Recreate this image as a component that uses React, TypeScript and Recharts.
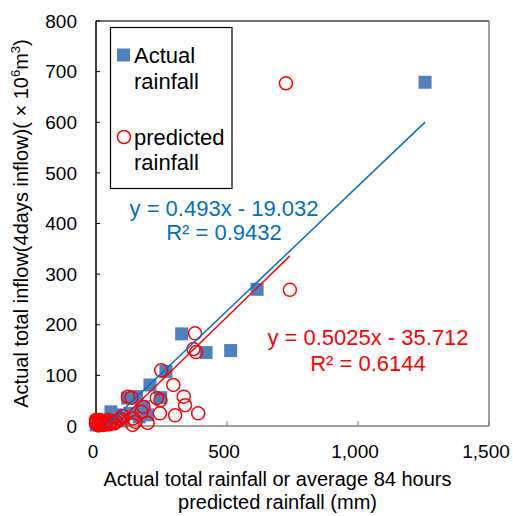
import React from 'react';
import { ScatterChart, Scatter, XAxis, YAxis, ReferenceLine, Label } from 'recharts';

// Actual rainfall (mm) vs. actual total inflow (10^6 m3)
const actualRain = [1256, 615, 327, 420, 514, 267, 206, 247, 181, 196, 155, 121, 165, 57, 65, 90, 30, 10, 4, 20, 40, 100, 130, 172, 75, 0, 15];
const actualInflow = [679, 270, 182, 145, 149, 108, 81, 56, 38, 22, 58, 55, 18, 28, 20, 15, 8, 5, 3, 10, 6, 10, 25, 34, 22, 2, 4];

// Predicted (84h average) rainfall (mm) vs. actual total inflow
const predRain = [725, 740, 378, 372, 382, 249, 295, 335, 340, 390, 302, 244, 232, 246, 181, 142, 122, 135, 174, 92, 60, 40, 20, 10, 3, 30, 70, 150, 102, 50, 88, 140, 197, 15, 0, 2, 8, 25, 35, 45, 55, 0, 18, 78];
const predInflow = [677, 269, 183, 152, 146, 110, 81, 58, 41, 25, 21, 25, 55, 51, 38, 15, 58, 56, 28, 15, 10, 8, 5, 3, 8, 2, 5, 8, 20, 3, 12, 2, 6, 12, 5, 10, 1, 9, 4, 12, 6, 12, 2, 8];

// Linear trendlines (visible segment endpoints): y = 0.493x - 19.032, y = 0.5025x - 35.712
const blueTrendX = [38.6, 1256];
const blueTrendY = [0, 600.2];
const redTrendX = [71.1, 740];
const redTrendY = [0, 336.1];

const xTicks = [0, 500, 1000, 1500];
const yTicks = [0, 100, 200, 300, 400, 500, 600, 700, 800];

const toPts = (xs: number[], ys: number[]) => xs.map((x, i) => ({ x, y: ys[i] }));
const actualData = toPts(actualRain, actualInflow);
const predData = toPts(predRain, predInflow);
const blueTrend = toPts(blueTrendX, blueTrendY);
const redTrend = toPts(redTrendX, redTrendY);

const FONT = '"Liberation Sans", Arial, sans-serif';
const BLUE_MARK = '#4F81BD';
const BLUE_LINE = '#0070C0';
const RED = '#FF0000';

const Square = (props: any) => {
  const { cx, cy } = props;
  if (cx == null || cy == null) return <g />;
  return <rect x={cx - 6.5} y={cy - 6.5} width={13} height={13} fill={BLUE_MARK} />;
};

const Ring = (props: any) => {
  const { cx, cy } = props;
  if (cx == null || cy == null) return <g />;
  return <circle cx={cx} cy={cy} r={6.5} fill="none" stroke={RED} strokeWidth={1.5} />;
};

const NoShape = () => <g />;

const XTitle = (props: any) => {
  const vb = props.viewBox || { x: 96, y: 426, width: 393, height: 90 };
  const cx = vb.x + vb.width / 2 - 15;
  return (
    <text x={cx} y={vb.y + 60} textAnchor="middle" fontSize={20} fill="#000" fontFamily={FONT}>
      <tspan x={cx} dy={0}>Actual total rainfall or average 84 hours</tspan>
      <tspan x={cx} dy={23}>predicted rainfall (mm)</tspan>
    </text>
  );
};

const YTitle = (props: any) => {
  const vb = props.viewBox || { x: 0, y: 21, width: 96, height: 405 };
  const cy = vb.y + vb.height / 2;
  return (
    <text transform="rotate(-90)" x={-cy} y={28} textAnchor="middle" fontSize={20} fill="#000" fontFamily={FONT}>
      Actual total inflow(4days inflow)( × 10
      <tspan dy={-8} fontSize={13}>6</tspan>
      <tspan dy={8}>m</tspan>
      <tspan dy={-8} fontSize={13}>3</tspan>
      <tspan dy={8}>)</tspan>
    </text>
  );
};

export default function App() {
  return (
    <div style={{ position: 'absolute', left: 0, top: 0, width: 513, height: 516, background: '#fff', fontFamily: FONT }}>
      <ScatterChart width={513} height={516} margin={{ top: 21, right: 24, bottom: 0, left: 0 }}>
        <XAxis
          type="number"
          dataKey="x"
          domain={[0, 1500]}
          ticks={xTicks}
          height={90}
          tickSize={-5}
          tickMargin={24}
          axisLine={{ stroke: '#808080', strokeWidth: 1.5 }}
          tickLine={{ stroke: '#808080' }}
          tick={{ fill: '#000', fontSize: 19, fontFamily: FONT, dx: -3 }}
          tickFormatter={(v: number) => v.toLocaleString('en-US')}
        >
          <Label content={XTitle} />
        </XAxis>
        <YAxis
          type="number"
          dataKey="y"
          domain={[0, 800]}
          ticks={yTicks}
          width={96}
          tickSize={-4}
          tickMargin={23}
          axisLine={{ stroke: '#000', strokeWidth: 1.5 }}
          tickLine={{ stroke: '#000' }}
          tick={{ fill: '#000', fontSize: 19, fontFamily: FONT }}
        >
          <Label content={YTitle} />
        </YAxis>
        <ReferenceLine y={800} stroke="#404040" strokeWidth={1.5} />
        <ReferenceLine x={1500} stroke="#808080" strokeWidth={1.5} />
        <Scatter data={actualData} shape={Square} isAnimationActive={false} />
        <Scatter data={predData} shape={Ring} isAnimationActive={false} />
        <Scatter data={blueTrend} shape={NoShape} line={{ stroke: BLUE_LINE, strokeWidth: 1.5 }} isAnimationActive={false} />
        <Scatter data={redTrend} shape={NoShape} line={{ stroke: RED, strokeWidth: 1.5 }} isAnimationActive={false} />
      </ScatterChart>
      <svg width={513} height={516} style={{ position: 'absolute', left: 0, top: 0, pointerEvents: 'none' }}>
        <rect x={110.5} y={27.5} width={121.5} height={161} fill="#fff" stroke="#000" strokeWidth={1.2} />
        <rect x={117} y={48.5} width={13} height={13} fill={BLUE_MARK} />
        <text x={134} y={63} fontSize={22} fill="#000" fontFamily={FONT}>Actual</text>
        <text x={134} y={89} fontSize={22} fill="#000" fontFamily={FONT}>rainfall</text>
        <circle cx={124} cy={137} r={6.5} fill="none" stroke={RED} strokeWidth={1.5} />
        <text x={134} y={145} fontSize={22} fill="#000" fontFamily={FONT}>predicted</text>
        <text x={134} y={170} fontSize={22} fill="#000" fontFamily={FONT}>rainfall</text>
        <text x={224} y={216} textAnchor="middle" fontSize={22} fill={BLUE_LINE} fontFamily={FONT}>y = 0.493x - 19.032</text>
        <text x={224} y={240} textAnchor="middle" fontSize={22} fill={BLUE_LINE} fontFamily={FONT}>R² = 0.9432</text>
        <text x={368} y={345} textAnchor="middle" fontSize={22} fill={RED} fontFamily={FONT}>y = 0.5025x - 35.712</text>
        <text x={368} y={371} textAnchor="middle" fontSize={22} fill={RED} fontFamily={FONT}>R² = 0.6144</text>
      </svg>
    </div>
  );
}
